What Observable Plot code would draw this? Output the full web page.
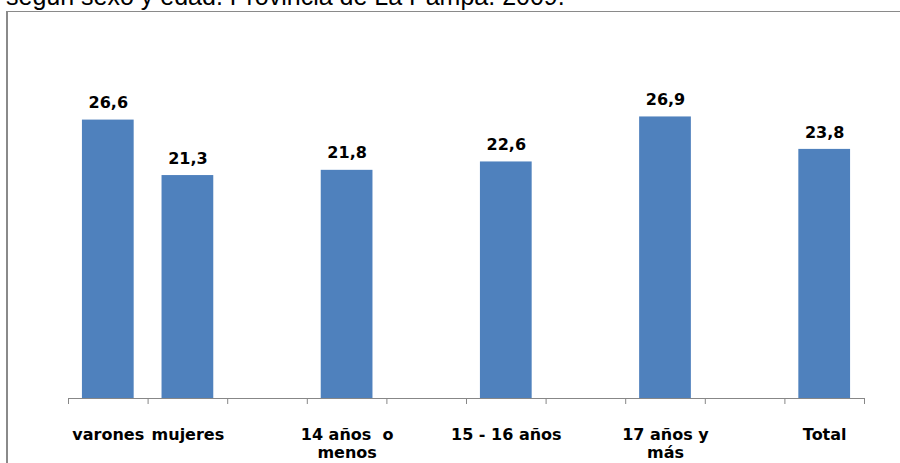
<!DOCTYPE html>
<html>
<head>
<meta charset="utf-8">
<script src="https://cdn.jsdelivr.net/npm/d3@7"></script>
<script src="https://cdn.jsdelivr.net/npm/@observablehq/plot@0.6"></script>
<style>
  html, body { margin: 0; padding: 0; background: #fff; overflow: hidden; }
  #wrap { position: relative; width: 900px; height: 463px; overflow: hidden; }
  #title { position: absolute; left: 6px; top: -16px; font-family: "Liberation Sans", Arial, sans-serif; font-size: 25px; line-height: 25px; color: #000; white-space: nowrap; }
  #box { position: absolute; left: 6px; top: 11px; width: 1000px; height: 1000px; border-left: 2px solid #8a8a8a; border-top: 1px solid #8a8a8a; }
  #chart { position: absolute; left: 0; top: 0; }
</style>
</head>
<body>
<div id="wrap">
  <div id="box"></div>
  <div id="title">según sexo y edad. Provincia de La Pampa. 2009.</div>
  <div id="chart"></div>
</div>
<script>
// Slots along the x axis (empty slots are gaps between groups)
const tickLabels = ["varones", "mujeres", "", "14 años  o\nmenos", "", "15 - 16 años", "", "17 años y\nmás", "", "Total"];
const values = [26.6, 21.3, null, 21.8, null, 22.6, null, 26.9, null, 23.8];
const valueLabels = ["26,6", "21,3", "", "21,8", "", "22,6", "", "26,9", "", "23,8"];

const data = tickLabels.map((label, i) => ({i, label, v: values[i], vl: valueLabels[i]}));
const bars = data.filter(d => d.v != null);

const W = 900, H = 463, mL = 68, mR = 36, mT = 84, mB = 65;
const step = (W - mL - mR) / tickLabels.length;
const pxPerUnit = (H - mT - mB) / 30;
const tickLen = 6 / pxPerUnit;

const chart = Plot.plot({
  width: W,
  height: H,
  marginLeft: mL,
  marginRight: mR,
  marginTop: mT,
  marginBottom: mB,
  style: {fontFamily: "DejaVu Sans", fontWeight: "bold", fontSize: "16px", color: "#000", background: "transparent"},
  x: {domain: d3.range(tickLabels.length), paddingInner: 0.35, paddingOuter: 0.175, round: false, axis: null},
  y: {domain: [0, 30], axis: null},
  marks: [
    Plot.barY(bars, {x: "i", y: "v", fill: "#4F81BD"}),
    Plot.ruleY([0], {stroke: "#878787", strokeWidth: 1}),
    Plot.ruleX(d3.range(tickLabels.length), {x: d => d, y1: 0, y2: -tickLen, dx: -step / 2, stroke: "#878787"}),
    Plot.ruleX([tickLabels.length - 1], {x: d => d, y1: 0, y2: -tickLen, dx: step / 2, stroke: "#878787"}),
    Plot.text(bars, {x: "i", y: "v", text: "vl", lineAnchor: "middle", dy: -17, fill: "#000", fontSize: 16, fontWeight: "bold"}),
    Plot.text(data, {x: "i", text: "label", frameAnchor: "bottom", lineAnchor: "top", dy: 27.6, lineHeight: 1.18, fill: "#000", fontSize: 16, fontWeight: "bold"})
  ]
});
document.getElementById("chart").appendChild(chart);
</script>
</body>
</html>
